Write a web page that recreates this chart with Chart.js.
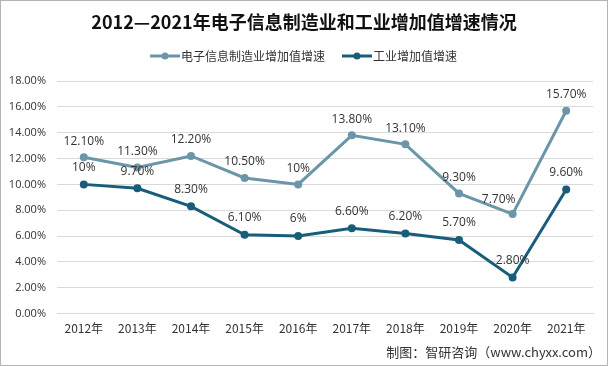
<!DOCTYPE html>
<html>
<head>
<meta charset="utf-8">
<script src="https://cdn.jsdelivr.net/npm/chart.js@4"></script>
<style>
  html, body { margin: 0; padding: 0; background: #fff; }
  #wrap { width: 608px; height: 366px; box-sizing: border-box; border: 1px solid #b4b4b4; }
  canvas { display: block; }
</style>
</head>
<body>
<div id="wrap"><canvas id="grafico" width="606" height="364"></canvas></div>
<script>
// 数据
const anios = ['2012年', '2013年', '2014年', '2015年', '2016年', '2017年', '2018年', '2019年', '2020年', '2021年'];
const electronica = [12.1, 11.3, 12.2, 10.5, 10.0, 13.8, 13.1, 9.3, 7.7, 15.7];
const industria = [10.0, 9.7, 8.3, 6.1, 6.0, 6.6, 6.2, 5.7, 2.8, 9.6];
const etiquetasElectronica = ['12.10%', '11.30%', '12.20%', '10.50%', '10%', '13.80%', '13.10%', '9.30%', '7.70%', '15.70%'];
const etiquetasIndustria = ['10%', '9.70%', '8.30%', '6.10%', '6%', '6.60%', '6.20%', '5.70%', '2.80%', '9.60%'];
const nombres = ['电子信息制造业增加值增速', '工业增加值增速'];

const colores = ['#6b95a9', '#185e7a'];
const fuenteNum = '"Open Sans", "Noto Sans", sans-serif';
const fuenteCJK = '"Noto Sans CJK SC", sans-serif';

// Titulo, leyenda, etiquetas y fuente dibujados a mano
const decoracion = {
    id: 'decoracion',
    afterDatasetsDraw(chart) {
        const ctx = chart.ctx;
        ctx.save();
        ctx.textAlign = 'center';
        ctx.textBaseline = 'middle';

        // etiquetas de datos
        ctx.font = '12px ' + fuenteNum;
        ctx.fillStyle = '#333';
        chart.getDatasetMeta(0).data.forEach((p, i) => {
            let dx = 0, dy = -16;
            if (i === 8) { dx = -14; dy = -15; }
            ctx.fillText(etiquetasElectronica[i], p.x + dx, p.y + dy);
        });
        chart.getDatasetMeta(1).data.forEach((p, i) => {
            ctx.fillText(etiquetasIndustria[i], p.x, p.y - 17);
        });

        // titulo
        ctx.fillStyle = '#111';
        ctx.font = 'bold 18px ' + fuenteCJK;
        ctx.fillText('2012—2021年电子信息制造业和工业增加值增速情况', 303, 21);

        // leyenda
        ctx.font = '12px ' + fuenteCJK;
        ctx.textAlign = 'left';
        const items = [[149, nombres[0]], [341, nombres[1]]];
        items.forEach(([x, txt], k) => {
            ctx.strokeStyle = colores[k];
            ctx.lineWidth = 3;
            ctx.beginPath();
            ctx.moveTo(x, 55);
            ctx.lineTo(x + 30, 55);
            ctx.stroke();
            ctx.fillStyle = colores[k];
            ctx.beginPath();
            ctx.arc(x + 15, 55, 3.5, 0, Math.PI * 2);
            ctx.fill();
            ctx.fillStyle = '#333';
            ctx.fillText(txt, x + 31, 55);
        });

        // fuente
        ctx.font = '13px ' + fuenteCJK;
        ctx.textAlign = 'right';
        ctx.fillStyle = '#333';
        ctx.fillText('制图：智研咨询（www.chyxx.com）', 600, 351);
        ctx.restore();
    }
};

window.addEventListener('DOMContentLoaded', () => {
    new Chart(document.getElementById('grafico'), {
        type: 'line',
        data: {
            labels: anios,
            datasets: [{
                label: nombres[0],
                data: electronica,
                borderColor: colores[0],
                backgroundColor: colores[0],
                borderWidth: 3,
                pointRadius: 4,
                pointBorderWidth: 0,
                tension: 0
            }, {
                label: nombres[1],
                data: industria,
                borderColor: colores[1],
                backgroundColor: colores[1],
                borderWidth: 3,
                pointRadius: 4,
                pointBorderWidth: 0,
                tension: 0
            }]
        },
        options: {
            responsive: false,
            animation: false,
            layout: { padding: { left: 0, right: 14, top: 80, bottom: 29 } },
            plugins: {
                legend: { display: false },
                title: { display: false },
                tooltip: { enabled: false }
            },
            scales: {
                x: {
                    offset: true,
                    grid: { display: false },
                    border: { color: '#d9d9d9' },
                    ticks: { color: '#333', font: { family: fuenteCJK, size: 12 }, padding: 0, maxRotation: 0 }
                },
                y: {
                    min: 0,
                    max: 18,
                    grid: { color: '#d9d9d9', drawTicks: false },
                    border: { display: false },
                    afterFit: s => { s.width = 56; },
                    ticks: {
                        stepSize: 2,
                        padding: 11,
                        color: '#333',
                        font: { family: fuenteNum, size: 11 },
                        callback: v => v.toFixed(2) + '%'
                    }
                }
            }
        },
        plugins: [decoracion]
    });
});
</script>
</body>
</html>
